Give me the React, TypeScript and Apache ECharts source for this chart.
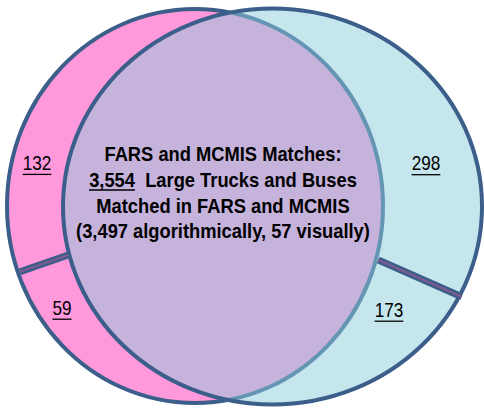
import React, { useEffect, useRef } from "react";
import * as echarts from "echarts";

// Data
const farsOnlyCounts = [132, 59]; // upper, lower part of FARS-only region
const mcmisOnlyCounts = [298, 173]; // upper, lower part of MCMIS-only region
const matchedTotal = [3554];
const matchedBreakdown = [3497, 57]; // algorithmically, visually
const titleLines = ["FARS and MCMIS Matches:", "Large Trucks and Buses", "Matched in FARS and MCMIS"];

const fmt = (n: number) => n.toLocaleString("en-US");

const FONT_FAMILY = '"Liberation Sans", Arial, sans-serif';

function measure(text: string, size: number, weight: string) {
  const c = document.createElement("canvas");
  const ctx = c.getContext("2d")!;
  ctx.font = `${weight} ${size}px ${FONT_FAMILY}`;
  return ctx.measureText(text).width;
}

export default function App() {
  const ref = useRef<HTMLDivElement>(null);
  useEffect(() => {
    document.body.style.margin = "0";
    const chart = echarts.init(ref.current!, undefined, { renderer: "svg" });
    const border = "#3B5E8A";
    const pink = { cx: 195, cy: 206, rx: 188, ry: 197 };
    const blue = { cx: 272.5, cy: 206.5, rx: 209.5, ry: 198 };

    const elements: any[] = [];
    elements.push({
      type: "ellipse",
      shape: pink,
      style: { fill: "#FF99DB", stroke: border, lineWidth: 4 },
      z: 1,
    });
    elements.push({
      type: "ellipse",
      shape: blue,
      style: { fill: "rgba(141,205,221,0.5)", stroke: null },
      z: 2,
    });
    elements.push({
      type: "ellipse",
      shape: blue,
      style: { fill: null, stroke: border, lineWidth: 4 },
      z: 3,
    });
    const dividers = [
      [20, 271.7, 68.3, 255],
      [378.3, 260, 461.7, 296.7],
    ];
    dividers.forEach(([x1, y1, x2, y2]) => {
      elements.push({
        type: "line",
        shape: { x1, y1, x2, y2 },
        style: { stroke: border, lineWidth: 7 },
        z: 4,
      });
      elements.push({
        type: "line",
        shape: { x1, y1, x2, y2 },
        style: { stroke: "#7D5A8F", lineWidth: 2.2 },
        z: 5,
      });
    });

    const baseOff = 0.88;
    // region numbers with underline
    const numSize = 20;
    const numScale = 0.86;
    const numLabels = [
      { v: farsOnlyCounts[0], x: 37, y: 170.7 },
      { v: farsOnlyCounts[1], x: 62, y: 315.5 },
      { v: mcmisOnlyCounts[0], x: 426, y: 171 },
      { v: mcmisOnlyCounts[1], x: 389, y: 317.5 },
    ];
    numLabels.forEach(({ v, x, y }) => {
      const t = fmt(v);
      const w = measure(t, numSize, "normal") * numScale;
      elements.push({
        type: "text",
        x,
        y: y - baseOff * numSize,
        scaleX: numScale,
        style: {
          text: t,
          fill: "#000",
          font: `normal ${numSize}px ${FONT_FAMILY}`,
          align: "center",
          verticalAlign: "top",
        },
        z: 10,
      });
      elements.push({
        type: "line",
        shape: { x1: x - w / 2, y1: y + 3.7, x2: x + w / 2, y2: y + 3.7 },
        style: { stroke: "#000", lineWidth: 1.3 },
        z: 10,
      });
    });

    // center text
    const cSize = 19.5;
    const cScale = 0.94;
    const cx = 223;
    const baselines = [161, 187, 213, 238];
    const lines = [
      titleLines[0],
      `${fmt(matchedTotal[0])}  ${titleLines[1]}`,
      titleLines[2],
      `(${fmt(matchedBreakdown[0])} algorithmically, ${fmt(matchedBreakdown[1])} visually)`,
    ];
    lines.forEach((t, i) => {
      elements.push({
        type: "text",
        x: cx,
        y: baselines[i] - baseOff * cSize,
        scaleX: cScale,
        style: {
          text: t,
          fill: "#000",
          font: `bold ${cSize}px ${FONT_FAMILY}`,
          align: "center",
          verticalAlign: "top",
        },
        z: 10,
      });
    });
    const w2 = measure(lines[1], cSize, "bold") * cScale;
    const wNum = measure(fmt(matchedTotal[0]), cSize, "bold") * cScale;
    const sx = cx - w2 / 2;
    elements.push({
      type: "line",
      shape: { x1: sx, y1: baselines[1] + 3, x2: sx + wNum, y2: baselines[1] + 3 },
      style: { stroke: "#000", lineWidth: 1.6 },
      z: 10,
    });

    chart.setOption({
      animation: false,
      graphic: { elements },
    });
    return () => chart.dispose();
  }, []);
  return <div ref={ref} style={{ width: 484, height: 411 }} />;
}
